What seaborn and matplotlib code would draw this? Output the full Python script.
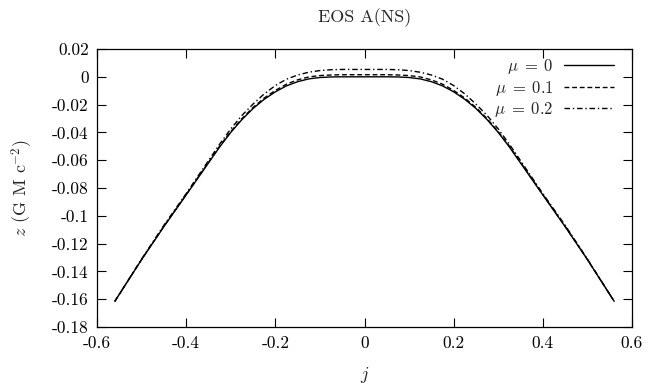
import matplotlib
matplotlib.use("Agg")
import matplotlib.pyplot as plt
import seaborn as sns
import pandas as pd

# Angular momentum grid and height profiles z(j) for three values of mu
j = [-0.56, -0.5, -0.45, -0.4, -0.35, -0.325, -0.3, -0.275, -0.25, -0.225, -0.2,
     -0.175, -0.15, -0.125, -0.1, -0.075, -0.05, 0.0,
     0.05, 0.075, 0.1, 0.125, 0.15, 0.175, 0.2, 0.225, 0.25, 0.275, 0.3, 0.325,
     0.35, 0.4, 0.45, 0.5, 0.56]

z_mu0 = [-0.1615, -0.1315, -0.1078, -0.085, -0.062, -0.0505, -0.04, -0.0308,
         -0.0228, -0.0162, -0.0108, -0.0065, -0.0035, -0.0015, -0.0005, -0.0001,
         0.0, 0.0,
         0.0, -0.0001, -0.0005, -0.0015, -0.0035, -0.0065, -0.0108, -0.0162,
         -0.0228, -0.0308, -0.04, -0.0505, -0.062, -0.085, -0.1078, -0.1315,
         -0.1615]

z_mu01 = [-0.1615, -0.1314, -0.1075, -0.0847, -0.0615, -0.0499, -0.0394, -0.0301,
          -0.022, -0.0153, -0.0098, -0.0053, -0.0022, -0.0001, 0.0009, 0.0013,
          0.0015, 0.0015,
          0.0015, 0.0013, 0.0009, -0.0001, -0.0022, -0.0053, -0.0098, -0.0153,
          -0.022, -0.0301, -0.0394, -0.0499, -0.0615, -0.0847, -0.1075, -0.1314,
          -0.1615]

z_mu02 = [-0.1615, -0.1311, -0.1068, -0.084, -0.0603, -0.0485, -0.0375, -0.0278,
          -0.0196, -0.0123, -0.0063, -0.0017, 0.0013, 0.0033, 0.0045, 0.0051,
          0.0053, 0.0053,
          0.0053, 0.0051, 0.0045, 0.0033, 0.0013, -0.0017, -0.0063, -0.0123,
          -0.0196, -0.0278, -0.0375, -0.0485, -0.0603, -0.084, -0.1068, -0.1311,
          -0.1615]

series_labels = [r"$\mu\;=\;0$", r"$\mu\;=\;0.1$", r"$\mu\;=\;0.2$"]

x_ticks = [-0.6, -0.4, -0.2, 0.0, 0.2, 0.4, 0.6]
x_tick_labels = ["-0.6", "-0.4", "-0.2", "0", "0.2", "0.4", "0.6"]
y_ticks = [0.02, 0.0, -0.02, -0.04, -0.06, -0.08, -0.1, -0.12, -0.14, -0.16, -0.18]
y_tick_labels = ["0.02", "0", "-0.02", "-0.04", "-0.06", "-0.08", "-0.1",
                 "-0.12", "-0.14", "-0.16", "-0.18"]

sns.set_style("ticks")
plt.rcParams["font.family"] = ["cmr10", "DejaVu Serif"]
plt.rcParams["mathtext.fontset"] = "cm"
plt.rcParams["axes.formatter.use_mathtext"] = True

fig = plt.figure(figsize=(6.48, 3.85), dpi=100)
ax = fig.add_axes([0.1497, 0.1506, 0.9753 - 0.1497, 0.8727 - 0.1506])

df = pd.DataFrame({"j": j, "z0": z_mu0, "z1": z_mu01, "z2": z_mu02})
dash_patterns = [None, (3.5, 2.0), (4.0, 2.0, 1.0, 2.0)]
for col, label, dash in zip(["z0", "z1", "z2"], series_labels, dash_patterns):
    sns.lineplot(data=df, x="j", y=col, ax=ax, color="black", linewidth=1.0,
                 sort=False, label=label, estimator=None)
    if dash is not None:
        ax.get_lines()[-1].set_dashes(dash)

ax.set_xlim(-0.6, 0.6)
ax.set_ylim(-0.18, 0.02)
ax.set_xticks(x_ticks)
ax.set_xticklabels(x_tick_labels)
ax.set_yticks(y_ticks)
ax.set_yticklabels(y_tick_labels)
ax.tick_params(direction="in", length=6.5, width=0.8, top=True, right=True,
               labelsize=12.5, colors="black", pad=6)
for s in ax.spines.values():
    s.set_visible(True)
    s.set_linewidth(0.9)
    s.set_color("black")

ax.set_xlabel(r"$j$", fontsize=13, labelpad=10)
ax.set_ylabel(r"$z$ (G M c$^{-2}$)", fontsize=13, labelpad=12)
ax.set_title("EOS A(NS)", fontsize=13, pad=19)

ax.legend(loc="upper right", frameon=False, markerfirst=False,
          fontsize=12, handlelength=3.0, handletextpad=0.6,
          labelspacing=0.15, borderaxespad=0.0,
          bbox_to_anchor=(0.978, 0.995))

fig.savefig("out.png", dpi=100)
